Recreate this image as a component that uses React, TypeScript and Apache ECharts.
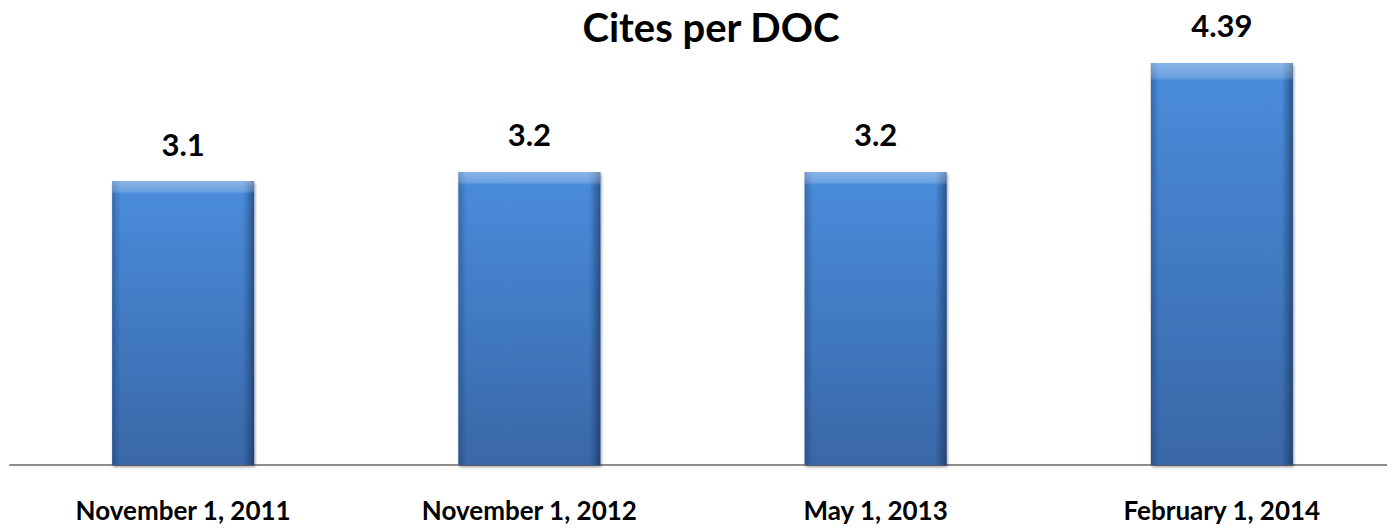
import React, { useEffect, useRef } from "react";
import * as echarts from "echarts";

const categories = ["November 1, 2011", "November 1, 2012", "May 1, 2013", "February 1, 2014"];
const values = [3.1, 3.2, 3.2, 4.39];
const valueLabels = ["3.1", "3.2", "3.2", "4.39"];
const titleText = "Cites per DOC";

export default function App() {
  const ref = useRef<HTMLDivElement>(null);
  useEffect(() => {
    if (!ref.current) return;
    const chart = echarts.init(ref.current, null, { renderer: "svg" });
    const font = "Lato, 'Open Sans', sans-serif";
    chart.setOption({
      animation: false,
      backgroundColor: "#ffffff",
      title: {
        text: titleText,
        left: 706,
        textAlign: "center",
        top: 2,
        textStyle: { fontFamily: font, fontWeight: "bold", fontSize: 40, color: "#000" },
      },
      grid: { left: 10, width: 1392, top: 7, bottom: 67, containLabel: false },
      xAxis: {
        type: "category",
        data: categories,
        axisLine: { show: true, lineStyle: { color: "#8c8c8c", width: 2 } },
        axisTick: { show: false },
        axisLabel: {
          margin: 32,
          fontFamily: font,
          fontWeight: "bold",
          fontSize: 26,
          color: "#000",
        },
      },
      yAxis: {
        type: "value",
        min: 0,
        max: 5,
        show: false,
        splitLine: { show: false },
      },
      series: [
        {
          type: "bar",
          data: values,
          barWidth: 142,
          z: 2,
          itemStyle: {
            color: new echarts.graphic.LinearGradient(0, 0, 0, 1, [
              { offset: 0, color: "#4a8ddc" },
              { offset: 1, color: "#3967a7" },
            ]),
            shadowColor: "rgba(0,0,0,0.4)",
            shadowBlur: 3,
            shadowOffsetX: 1,
            shadowOffsetY: 2,
          },
          label: {
            show: true,
            position: "top",
            distance: 22,
            formatter: (p: any) => valueLabels[p.dataIndex],
            fontFamily: font,
            fontWeight: "bold",
            fontSize: 31,
            color: "#000",
          },
        },
        {
          type: "bar",
          data: values,
          barWidth: 142,
          barGap: "-100%",
          z: 3,
          silent: true,
          itemStyle: {
            color: new echarts.graphic.LinearGradient(0, 0, 1, 0, [
              { offset: 0, color: "rgba(20,45,90,0.35)" },
              { offset: 0.06, color: "rgba(20,45,90,0)" },
              { offset: 0.92, color: "rgba(20,45,90,0)" },
              { offset: 1, color: "rgba(15,35,70,0.55)" },
            ]),
          },
        },
        {
          type: "bar",
          data: values,
          barWidth: 142,
          barGap: "-100%",
          z: 4,
          silent: true,
          itemStyle: {
            color: new echarts.graphic.LinearGradient(0, 0, 0, 1, [
              { offset: 0, color: "rgba(255,255,255,0.35)" },
              { offset: 0.035, color: "rgba(255,255,255,0.2)" },
              { offset: 0.045, color: "rgba(255,255,255,0)" },
              { offset: 1, color: "rgba(255,255,255,0)" },
            ]),
          },
        },
      ],
    });
    return () => chart.dispose();
  }, []);
  return <div ref={ref} style={{ width: 1395, height: 532, margin: "-8px 0 0 -8px" }} />;
}
